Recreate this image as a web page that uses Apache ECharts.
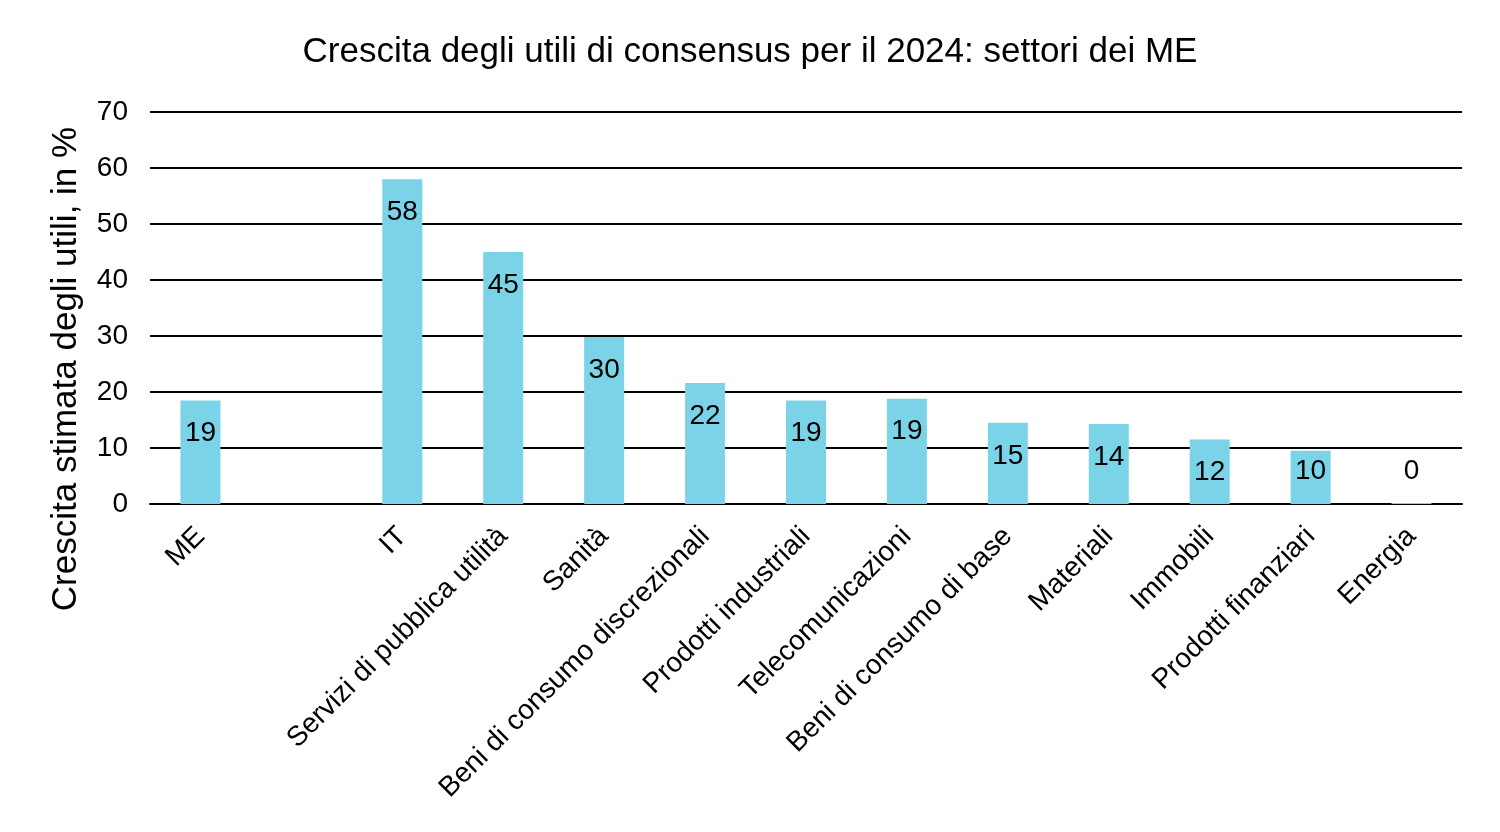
<!DOCTYPE html>
<html>
<head>
<meta charset="utf-8">
<script src="https://cdn.jsdelivr.net/npm/echarts@6/dist/echarts.min.js"></script>
<style>
  html, body { margin: 0; padding: 0; background: #fff; }
  #chart { width: 1500px; height: 832px; }
</style>
</head>
<body>
<div id="chart"></div>
<script>
  // categorie (la seconda è vuota, come nel grafico originale)
  const categories = ['ME', '', 'IT', 'Servizi di pubblica utilità', 'Sanità',
    'Beni di consumo discrezionali', 'Prodotti industriali', 'Telecomunicazioni',
    'Beni di consumo di base', 'Materiali', 'Immobili', 'Prodotti finanziari', 'Energia'];
  const values = [18.5, null, 58.0, 45.0, 29.8, 21.6, 18.5, 18.8, 14.5, 14.3, 11.5, 9.5, 0.2];
  const yTicks = [0, 10, 20, 30, 40, 50, 60, 70];

  const font = '"Liberation Sans", Arial, sans-serif';
  let chart = echarts.init(document.getElementById('chart'));

  // le etichette delle barre più basse restano sopra la linea del 5%
  const seriesData = values.map(function (v) {
    if (v !== null && v < 2) {
      return { value: v, label: { position: 'top', distance: 18 } };
    }
    if (v !== null && v < 11) {
      return { value: v, label: { distance: 6 } };
    }
    return v;
  });

  chart.setOption({
    animation: false,
    title: {
      text: 'Crescita degli utili di consensus per il 2024: settori dei ME',
      left: 'center',
      top: 30,
      textStyle: { fontFamily: font, fontSize: 35, fontWeight: 'normal', color: '#000' }
    },
    graphic: [{
      type: 'text',
      x: 66,
      y: 369,
      rotation: Math.PI / 2,
      style: {
        text: 'Crescita stimata degli utili, in %',
        fontFamily: font,
        fontSize: 35,
        fill: '#000',
        align: 'center',
        verticalAlign: 'middle'
      }
    }],
    grid: { left: 150, right: 38, top: 112, bottom: 328 },
    xAxis: {
      type: 'category',
      data: categories,
      axisLine: { lineStyle: { color: '#000', width: 2 } },
      axisTick: { show: false },
      axisLabel: {
        interval: 0,
        rotate: 45,
        margin: 28,
        fontFamily: font,
        fontSize: 28,
        color: '#000'
      }
    },
    yAxis: {
      type: 'value',
      min: yTicks[0],
      max: yTicks[yTicks.length - 1],
      interval: 10,
      axisLine: { show: false },
      axisTick: { show: false },
      splitLine: { lineStyle: { color: '#000', width: 2 } },
      axisLabel: { fontFamily: font, fontSize: 28, color: '#000', margin: 22 }
    },
    series: [{
      type: 'bar',
      data: seriesData,
      barWidth: 40,
      itemStyle: { color: '#7ad3e6' },
      label: {
        show: true,
        position: 'insideTop',
        distance: 19,
        fontFamily: font,
        fontSize: 28,
        color: '#000',
        formatter: function (p) { return Math.round(p.value); }
      }
    }]
  });
</script>
</body>
</html>
